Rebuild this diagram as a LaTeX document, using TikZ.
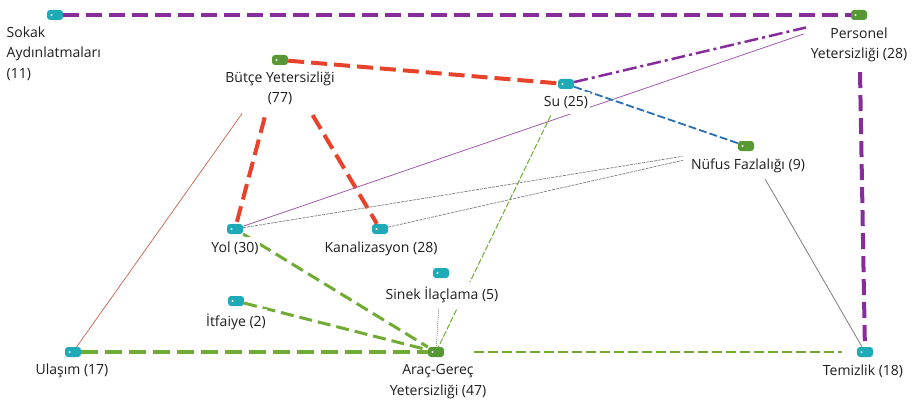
\documentclass[tikz,border=0pt]{standalone}
\usepackage{fontspec}
\setmainfont{Open Sans}
\definecolor{cpurple}{RGB}{135,45,155}
\definecolor{cred}{RGB}{232,67,42}
\definecolor{cgreenl}{RGB}{112,172,52}
\definecolor{cblue}{RGB}{40,110,180}
\definecolor{cteal}{RGB}{30,170,182}
\definecolor{cgreen}{RGB}{88,152,52}
\definecolor{cgray}{RGB}{125,125,125}
\definecolor{cbrown}{RGB}{205,95,80}
\definecolor{cpurplel}{RGB}{160,90,170}
\definecolor{ctext}{RGB}{30,30,30}
\begin{document}
\begin{tikzpicture}[x=1pt,y=-1pt,
  code/.style={fill=cteal, minimum width=16pt, minimum height=10pt, inner sep=0pt, rounded corners=3pt,
    path picture={\fill[white] ([xshift=4.5pt]path picture bounding box.west) circle (1.1pt);}},
  cat/.style={code, fill=cgreen},
  lbl/.style={fill=white, inner xsep=1.5pt, inner ysep=5pt, align=center, anchor=north, text=ctext, font=\fontsize{14}{20.5}\selectfont},
  thickpurple/.style={cpurple, line width=4pt, dash pattern=on 16pt off 7pt},
  thickred/.style={cred, line width=4pt, dash pattern=on 16pt off 7pt},
  dashdotpurple/.style={cpurple, line width=2.5pt, dash pattern=on 14pt off 4pt on 3pt off 4pt},
  bluedash/.style={cblue, line width=1.8pt, dash pattern=on 8pt off 3pt},
  greenthick/.style={cgreenl, line width=4.5pt, dash pattern=on 17pt off 7pt},
  greenmid/.style={cgreenl, line width=3pt, dash pattern=on 13pt off 6pt},
  greenthin/.style={cgreenl, line width=2pt, dash pattern=on 10pt off 4pt},
  greenfine/.style={cgreenl, line width=1pt, dash pattern=on 6pt off 2pt},
  brownthin/.style={cbrown, line width=0.7pt},
  purplethin/.style={cpurplel, line width=0.8pt},
  graydash/.style={cgray, line width=0.7pt, dash pattern=on 3pt off 1pt},
  graythin/.style={cgray, line width=0.8pt},
  graydot/.style={cgray, line width=0.6pt, dash pattern=on 1pt off 1pt}
]
\useasboundingbox (0,0) rectangle (916,404);

% icons
\node[code] (sokak) at (55,15) {};
\node[cat]  (personel) at (859,15) {};
\node[cat]  (butce) at (280,60) {};
\node[code] (su) at (566,84) {};
\node[cat]  (nufus) at (746,146) {};
\node[code] (yol) at (235,229) {};
\node[code] (kanal) at (380,229) {};
\node[code] (sinek) at (441,273) {};
\node[code] (itfaiye) at (236,301) {};
\node[code] (ulasim) at (73,352) {};
\node[cat]  (arac) at (436,352) {};
\node[code] (temizlik) at (865,352) {};

% connectors
\draw[thickpurple] (sokak) -- (personel);
\draw[thickpurple, shorten <=52pt] (personel) -- (temizlik);
\draw[thickred] (butce) -- (su);
\draw[thickred, shorten <=54pt] (butce) -- (yol);
\draw[thickred, shorten <=58pt] (butce) -- (kanal);
\draw[brownthin, shorten <=59pt] (butce) -- (ulasim);
\draw[dashdotpurple, shorten >=46pt] (su) -- (personel);
\draw[purplethin, shorten >=50pt] (yol) -- (personel);
\draw[bluedash] (su) -- (nufus);
\draw[greenfine, shorten <=29pt] (su) -- (arac);
\draw[graydash, shorten >=56pt] (yol) -- (nufus);
\draw[graydash, shorten >=56pt] (kanal) -- (nufus);
\draw[graythin, shorten <=32pt] (nufus) -- (temizlik);
\draw[greenmid] (yol) -- (arac);
\draw[greenmid] (itfaiye) -- (arac);
\draw[greenthick] (ulasim) -- (arac);
\draw[greenthin, shorten <=30pt, shorten >=15pt] (arac) -- (temizlik);
\draw[graydot, shorten <=25pt] (sinek) -- (arac);

% labels
\node[lbl, anchor=north west, align=left] (sokakL) at (5,21.5) {Sokak\\Aydınlatmaları\\(11)};
\node[lbl] (personelL) at (859,22.5) {Personel\\Yetersizliği (28)};
\node[lbl] (butceL) at (280,66.5) {Bütçe Yetersizliği\\(77)};
\node[lbl] (suL) at (566,91.5) {Su (25)};
\node[lbl] (nufusL) at (748,153.5) {Nüfus Fazlalığı (9)};
\node[lbl] (yolL) at (235,236.5) {Yol (30)};
\node[lbl] (kanalL) at (381,236.5) {Kanalizasyon (28)};
\node[lbl] (sinekL) at (442,281.5) {Sinek İlaçlama (5)};
\node[lbl] (itfaiyeL) at (236,308.5) {İtfaiye (2)};
\node[lbl] (ulasimL) at (72,358.5) {Ulaşım (17)};
\node[lbl] (aracL) at (438,359.5) {Araç-Gereç\\Yetersizliği (47)};
\node[lbl] (temizlikL) at (863,359.5) {Temizlik (18)};
\end{tikzpicture}
\end{document}
